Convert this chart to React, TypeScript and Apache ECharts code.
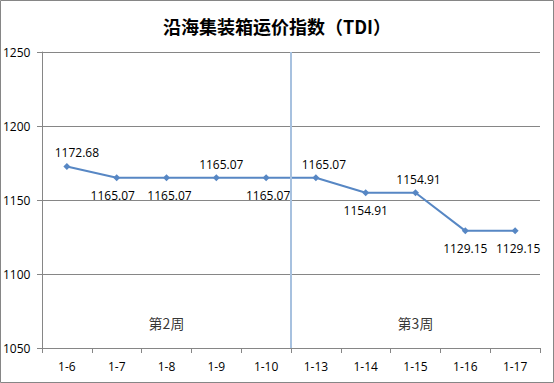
import React, { useEffect, useRef } from "react";
import * as echarts from "echarts";

const categories = ["1-6", "1-7", "1-8", "1-9", "1-10", "1-13", "1-14", "1-15", "1-16", "1-17"];
const tdiValues = [1172.68, 1165.07, 1165.07, 1165.07, 1165.07, 1165.07, 1154.91, 1154.91, 1129.15, 1129.15];
const labelSides = ["top", "bottom", "bottom", "top", "bottom", "top", "bottom", "top", "bottom", "bottom"];
const labelShiftX = [10, -4, 3, 5, 2, 8, 0, 3, 0, 3];
const weekDividerIndex = [5];
const weekLabels = ["第2周", "第3周"];
const weekLabelCenters = [2.5, 7.5];
const weekLabelValue = 1067;

export default function App() {
  const ref = useRef<HTMLDivElement>(null);
  useEffect(() => {
    document.body.style.margin = "0";
    const chart = echarts.init(ref.current!, null, { renderer: "svg" });
    const font = "'Open Sans', 'Noto Sans', sans-serif";
    chart.setOption({
      animation: false,
      backgroundColor: "#ffffff",
      title: {
        text: "沿海集装箱运价指数（TDI）",
        left: "center",
        top: 12,
        textStyle: { fontFamily: "'Noto Sans CJK SC', sans-serif", fontSize: 18, fontWeight: "bold", color: "#000" },
      },
      grid: { left: 41, right: 14, top: 52, bottom: 35 },
      xAxis: [
        {
          type: "category",
          data: categories,
          boundaryGap: true,
          axisLine: { lineStyle: { color: "#868686", width: 1 } },
          axisTick: { show: true, length: 5, inside: false, lineStyle: { color: "#868686" } },
          axisLabel: { color: "#000", fontFamily: font, fontSize: 12, margin: 12 },
        },
        { type: "value", min: 0, max: 10, show: false },
      ],
      yAxis: {
        type: "value",
        min: 1050,
        max: 1250,
        interval: 50,
        axisLine: { show: true, lineStyle: { color: "#868686" } },
        axisTick: { show: true, length: 5, lineStyle: { color: "#868686" } },
        axisLabel: {
          color: "#000",
          fontFamily: font,
          fontSize: 12,
          margin: 39,
          align: "left",
          formatter: (v: number) => String(v),
        },
        splitLine: { lineStyle: { color: "#868686", width: 1 } },
      },
      series: [
        {
          type: "line",
          data: tdiValues.map((v, i) => ({
            value: v,
            label: {
              position: labelSides[i],
              distance: labelSides[i] === "top" ? 4 : 8,
              offset: [labelShiftX[i], 0],
            },
          })),
          symbol: "diamond",
          symbolSize: 7,
          lineStyle: { color: "#5787c4", width: 2 },
          itemStyle: { color: "#5787c4" },
          label: {
            show: true,
            formatter: (p: any) => p.value.toFixed(2),
            color: "#000",
            fontFamily: font,
            fontSize: 12,
          },
          z: 3,
        },
        {
          type: "scatter",
          xAxisIndex: 1,
          data: weekLabelCenters.map((c, i) => ({ value: [c, weekLabelValue], name: weekLabels[i] })),
          symbolSize: 0,
          label: {
            show: true,
            position: "inside",
            formatter: (p: any) => p.name,
            color: "#000",
            fontFamily: "'Noto Sans CJK SC', sans-serif",
            fontSize: 14,
          },
          markLine: {
            symbol: "none",
            silent: true,
            label: { show: false },
            lineStyle: { color: "#a7c1df", width: 2, type: "solid" },
            data: weekDividerIndex.map((x) => ({ xAxis: x })),
          },
          z: 2,
        },
      ],
      graphic: [
        {
          type: "rect",
          shape: { x: 0.5, y: 0.5, width: 553, height: 382 },
          style: { fill: "none", stroke: "#868686", lineWidth: 1 },
          silent: true,
        },
      ],
    });
    return () => chart.dispose();
  }, []);
  return (
    <div
      ref={ref}
      style={{ position: "fixed", left: 0, top: 0, width: 554, height: 383 }}
    />
  );
}
